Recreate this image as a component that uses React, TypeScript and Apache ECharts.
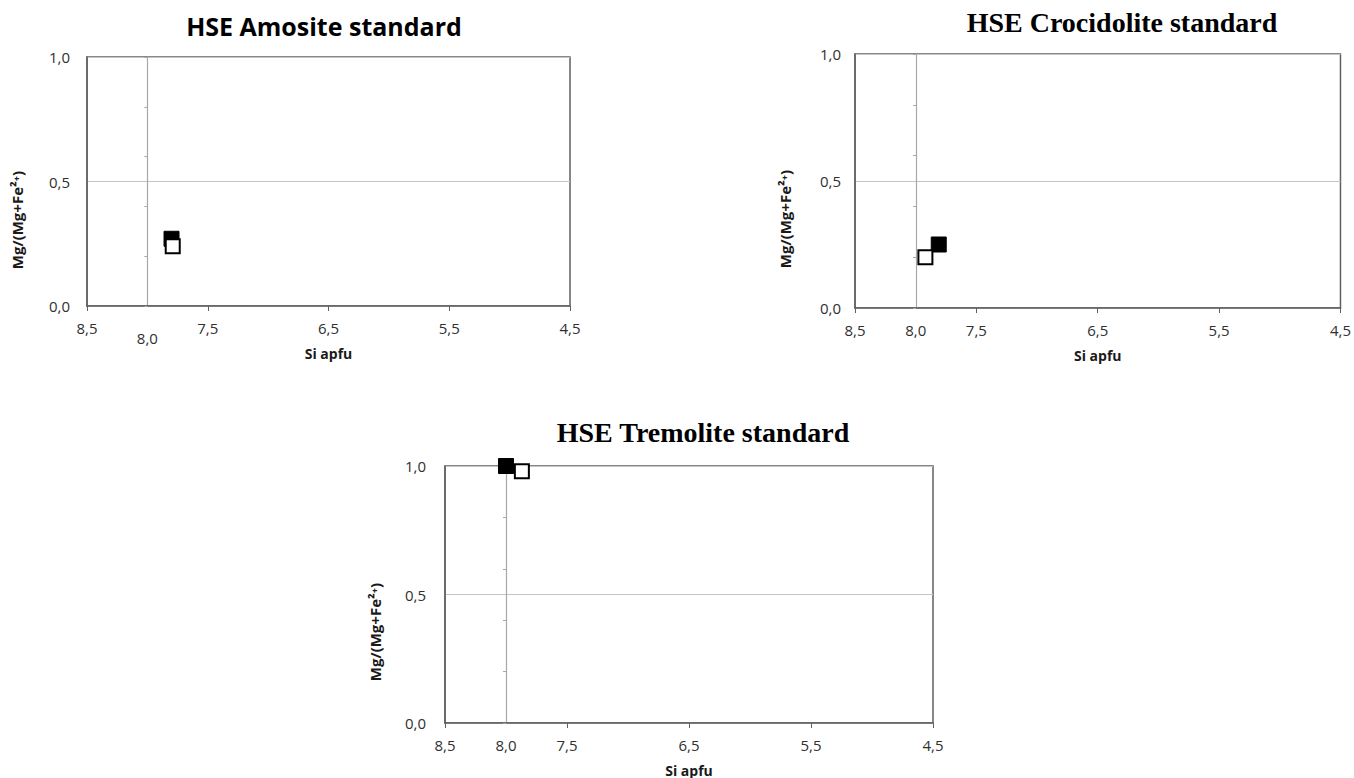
import React, { useEffect, useRef } from "react";
import * as echarts from "echarts";

// ---- data ----
const chartTitles = ["HSE Amosite standard", "HSE Crocidolite standard", "HSE Tremolite standard"];
const xAxisName = "Si apfu";
const yAxisName = "Mg/(Mg+Fe²⁺)";
const xTickValues = [8.5, 7.5, 6.5, 5.5, 4.5];
const xLabelValues = [8.5, 8.0, 7.5, 6.5, 5.5, 4.5];
const xMin = 4.5;
const xMax = 8.5;
const yMin = 0;
const yMax = 1;
const siLimit = 8.0;

const amositeFilled = [[7.8, 0.27]];
const amositeOpen = [[7.79, 0.24]];
const crocidoliteFilled = [[7.81, 0.25]];
const crocidoliteOpen = [[7.92, 0.2]];
const tremoliteFilled = [[8.0, 1.0]];
const tremoliteOpen = [[7.87, 0.98]];

const filledSets = [amositeFilled, crocidoliteFilled, tremoliteFilled];
const openSets = [amositeOpen, crocidoliteOpen, tremoliteOpen];

// ---- layout ----
const grids = [
  { left: 87, top: 57, width: 483, height: 249 },
  { left: 855, top: 54, width: 488, height: 254 },
  { left: 445, top: 466, width: 488, height: 257 },
];
const titlePos = [
  { x: 324, y: 13, font: "'Open Sans', sans-serif", size: 25 },
  { x: 1122, y: 8, font: "'Liberation Serif', 'Times New Roman', serif", size: 28 },
  { x: 703, y: 418, font: "'Liberation Serif', 'Times New Roman', serif", size: 28 },
];
const yNamePos = [
  { x: 17, y: 220 },
  { x: 785, y: 219 },
  { x: 375, y: 632 },
];
const yLabelMargin = [17, 14, 19];

const fmt = (v: number) => v.toFixed(1).replace(".", ",");
const labelColor = "#303030";
const axisColor = "#606060";
const labelFont = "'Open Sans', sans-serif";

export default function App() {
  const ref = useRef<HTMLDivElement>(null);
  useEffect(() => {
    if (!ref.current) return;
    const chart = echarts.init(ref.current, null, { renderer: "svg" });

    const xAxes = grids.map((g, i) => ({
      type: "value",
      gridIndex: i,
      min: xMin,
      max: xMax,
      inverse: true,
      name: xAxisName,
      nameLocation: "middle",
      nameGap: 40,
      nameMoveOverlap: false,
      nameTextStyle: { fontFamily: labelFont, fontWeight: "bold", fontSize: 14, color: "#1a1a1a" },
      axisLine: { show: true, onZero: false, lineStyle: { color: axisColor, width: 1.5 } },
      axisTick: { show: true, customValues: xTickValues, length: 5, lineStyle: { color: axisColor } },
      axisLabel: {
        customValues: xLabelValues,
        margin: 14,
        color: labelColor,
        fontSize: 15,
        fontFamily: labelFont,
        formatter: (v: number) => (i === 0 && v === siLimit ? "{low|" + fmt(v) + "}" : fmt(v)),
        rich: { low: { padding: [10, 0, 0, 0], fontSize: 15, color: labelColor, fontFamily: labelFont } },
      },
      splitLine: { show: false },
    }));

    const yMain = grids.map((g, i) => ({
      type: "value",
      gridIndex: i,
      min: yMin,
      max: yMax,
      interval: 0.5,
      position: "left",
      axisLine: { show: true, onZero: false, lineStyle: { color: axisColor, width: 1.5 } },
      axisTick: { show: false },
      axisLabel: { margin: yLabelMargin[i], color: labelColor, fontSize: 15, fontFamily: labelFont, formatter: fmt },
      splitLine: { show: true, lineStyle: { color: "#c4c4c4", width: 1.2 } },
    }));

    const yLine = grids.map((g, i) => ({
      type: "value",
      gridIndex: i,
      min: yMin,
      max: yMax,
      interval: 0.2,
      position: "left",
      offset: -(g.width * (xMax - siLimit)) / (xMax - xMin),
      axisLine: { show: true, onZero: false, lineStyle: { color: "#a8a8a8", width: 1.2 } },
      axisTick: { show: true, inside: false, length: 3, lineStyle: { color: "#a8a8a8" } },
      axisLabel: { show: false },
      splitLine: { show: false },
    }));

    const series: any[] = [];
    grids.forEach((g, i) => {
      series.push({
        type: "scatter",
        xAxisIndex: i,
        yAxisIndex: i,
        symbol: "rect",
        symbolSize: 15,
        clip: false,
        itemStyle: { color: "#000000", borderColor: "#000000", borderWidth: 1, opacity: 1 },
        data: filledSets[i],
      });
      series.push({
        type: "scatter",
        xAxisIndex: i,
        yAxisIndex: i,
        symbol: "rect",
        symbolSize: 14,
        clip: false,
        itemStyle: { color: "#ffffff", borderColor: "#000000", borderWidth: 2, opacity: 1 },
        data: openSets[i],
      });
    });

    chart.setOption({
      animation: false,
      backgroundColor: "#ffffff",
      title: chartTitles.map((t, i) => ({
        text: t,
        left: titlePos[i].x,
        top: titlePos[i].y,
        textAlign: "center",
        padding: 0,
        textStyle: { fontFamily: titlePos[i].font, fontWeight: "bold", fontSize: titlePos[i].size, color: "#000000" },
      })),
      grid: grids.map((g) => ({
        left: g.left,
        top: g.top,
        width: g.width,
        height: g.height,
        show: true,
        borderColor: axisColor,
        borderWidth: 1.5,
        backgroundColor: "#ffffff",
        containLabel: false,
      })),
      xAxis: xAxes,
      yAxis: [...yMain, ...yLine],
      graphic: yNamePos.map((p) => ({
        type: "text",
        x: p.x,
        y: p.y,
        rotation: Math.PI / 2,
        style: {
          text: yAxisName,
          fontFamily: "'Open Sans', 'DejaVu Sans', sans-serif",
          fontWeight: "bold",
          fontSize: 15,
          fill: "#1a1a1a",
          align: "center",
          verticalAlign: "middle",
        },
      })),
      series,
    });

    return () => chart.dispose();
  }, []);

  return (
    <div
      ref={ref}
      style={{ position: "fixed", left: 0, top: 0, width: 1354, height: 778, background: "#ffffff" }}
    />
  );
}
